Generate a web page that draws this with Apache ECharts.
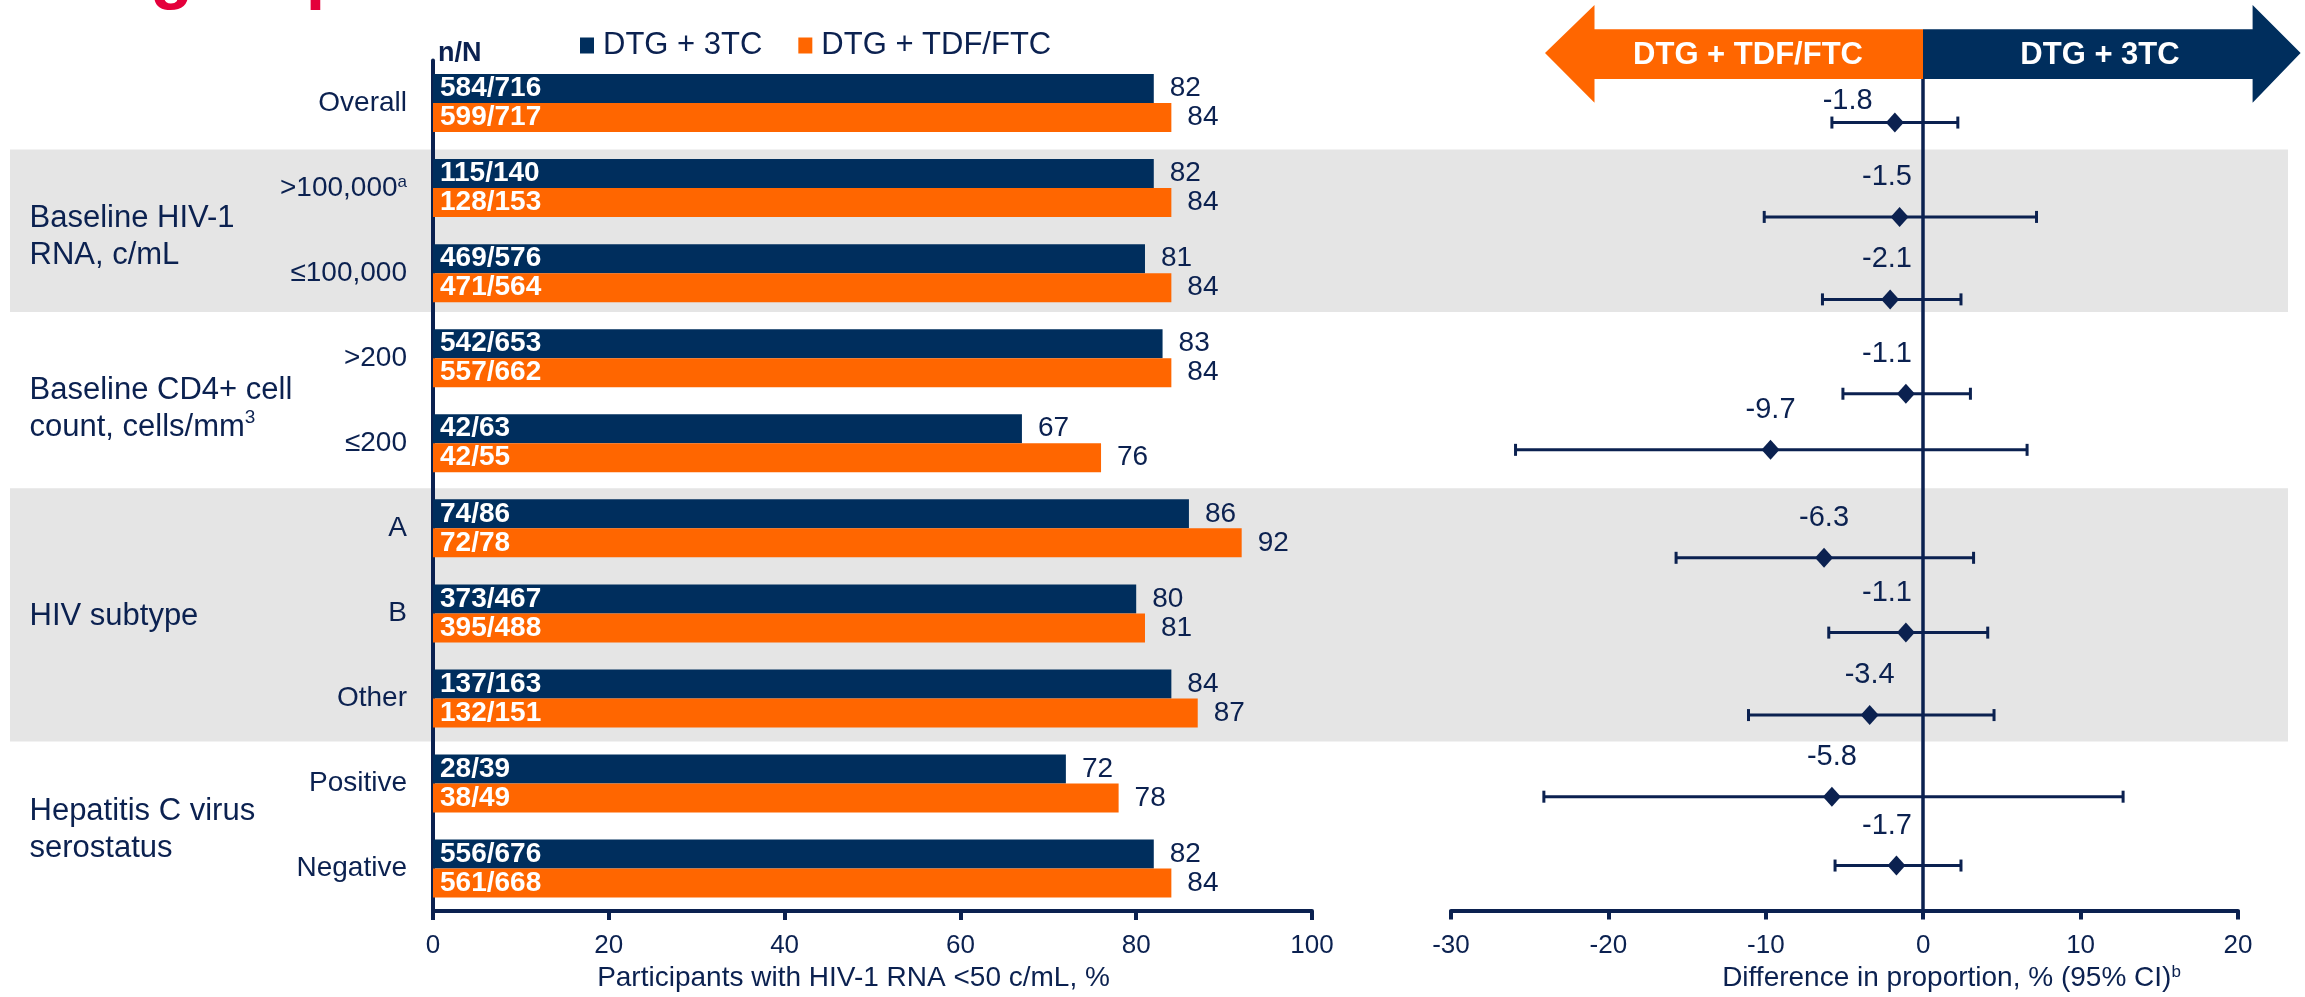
<html>
<head>
<meta charset="utf-8">
<script src="https://cdn.jsdelivr.net/npm/echarts@6/dist/echarts.min.js"></script>
<style>
html, body, #main { width: 100%; height: 100%; margin: 0; background: #fff; }
</style>
</head>
<body>
<div id="main"></div>
<script>
// subgroup rows, top to bottom
var subgroups = ['Overall', '>100,000', '≤100,000', '>200', '≤200', 'A', 'B', 'Other', 'Positive', 'Negative'];
var pct3TC = [82, 82, 81, 83, 67, 86, 80, 84, 72, 82];
var pctTDF = [84, 84, 84, 84, 76, 92, 81, 87, 78, 84];
var nN3TC = ['584/716', '115/140', '469/576', '542/653', '42/63', '74/86', '373/467', '137/163', '28/39', '556/676'];
var nNTDF = ['599/717', '128/153', '471/564', '557/662', '42/55', '72/78', '395/488', '132/151', '38/49', '561/668'];

// difference in proportion and 95% CI
var diff = [-1.8, -1.5, -2.1, -1.1, -9.7, -6.3, -1.1, -3.4, -5.8, -1.7];
var ciLow = [-5.8, -10.1, -6.4, -5.1, -25.9, -15.7, -6.0, -11.1, -24.1, -5.6];
var ciHigh = [2.2, 7.2, 2.4, 3.0, 6.6, 3.2, 4.1, 4.5, 12.7, 2.4];
var forestRow = [0.23, 1.34, 2.31, 3.42, 4.08, 5.35, 6.23, 7.2, 8.16, 8.97];

var groupNames = ['Baseline HIV-1\nRNA, c/mL', 'Baseline CD4+ cell\ncount, cells/mm{sup|3}', 'HIV subtype', 'Hepatitis C virus\nserostatus'];
var groupRow = [1.56, 3.57, 6.0, 8.5];
var shadedFrom = [0.54, 4.5];
var shadedTo = [2.44, 7.46];

var NAVY = '#002E5D';
var ORANGE = '#FF6600';
var INK = '#0B2150';
var FONT = 'Liberation Sans, Arial, sans-serif';

var chart = echarts.init(document.getElementById('main'));

var catLabels = subgroups.map(function (s) {
    return s === '>100,000' ? s + '{sup|a}' : s;
});

var forestData = diff.map(function (d, i) {
    return [ciLow[i], ciHigh[i], d, forestRow[i], i];
});

chart.setOption({
    backgroundColor: '#fff',
    animation: false,
    textStyle: { fontFamily: FONT, color: INK },
    legend: {
        left: 575,
        top: 25,
        itemWidth: 14,
        itemHeight: 16,
        itemGap: 36,
        icon: 'rect',
        textStyle: { fontSize: 31, color: INK, padding: [0, 0, 0, 4] },
        data: ['DTG + 3TC', 'DTG + TDF/FTC']
    },
    grid: [
        { left: 433, right: 993, top: 60.5, bottom: 81 },
        { left: 1451, right: 67, top: 60.5, bottom: 81 },
        { left: 10, right: 17, top: 60.5, bottom: 81 }
    ],
    xAxis: [
        {
            gridIndex: 0, type: 'value', min: 0, max: 100, interval: 20,
            axisLine: { show: true, lineStyle: { color: INK, width: 4 } },
            axisTick: { show: true, length: 9, lineStyle: { color: INK, width: 4 } },
            axisLabel: { fontSize: 26, color: INK, margin: 22 },
            splitLine: { show: false },
            name: 'Participants with HIV-1 RNA <50 c/mL, %',
            nameLocation: 'middle',
            nameGap: 48,
            nameTextStyle: { fontSize: 28, color: INK, padding: [0, 38, 0, 0] }
        },
        {
            gridIndex: 1, type: 'value', min: -30, max: 20, interval: 10,
            axisLine: { show: true, onZero: false, lineStyle: { color: INK, width: 4 } },
            axisTick: { show: true, length: 9, lineStyle: { color: INK, width: 4 } },
            axisLabel: { fontSize: 26, color: INK, margin: 22 },
            splitLine: { show: false },
            name: 'Difference in proportion, % (95% CI){sup|b}',
            nameLocation: 'middle',
            nameGap: 48,
            nameTextStyle: {
                fontSize: 28, color: INK, padding: [0, 0, 0, 214],
                rich: { sup: { fontSize: 17, verticalAlign: 'top', padding: [0, 0, 12, 0], color: INK } }
            }
        },
        { gridIndex: 2, type: 'value', min: 0, max: 1, show: false }
    ],
    yAxis: [
        {
            gridIndex: 0, type: 'category', inverse: true, data: catLabels,
            axisLine: { show: true, lineStyle: { color: INK, width: 4 } },
            axisTick: { show: false },
            axisLabel: {
                fontSize: 28, color: INK, margin: 26,
                rich: { sup: { fontSize: 17, verticalAlign: 'top', padding: [0, 0, 12, 0], color: INK } }
            }
        },
        {
            gridIndex: 1, type: 'value', inverse: true, min: -0.5, max: 9.5,
            axisLine: { show: true, onZero: true, lineStyle: { color: INK, width: 3.5 } },
            axisTick: { show: false }, axisLabel: { show: false }, splitLine: { show: false }
        },
        { gridIndex: 2, type: 'value', inverse: true, min: -0.5, max: 9.5, show: false }
    ],
    series: [
        {
            // shaded row bands behind everything
            type: 'custom',
            xAxisIndex: 2, yAxisIndex: 2,
            z: 0,
            silent: true,
            data: shadedFrom.map(function (f, i) { return [f, shadedTo[i]]; }),
            renderItem: function (params, api) {
                var p0 = api.coord([0, api.value(0)]);
                var p1 = api.coord([1, api.value(1)]);
                return {
                    type: 'rect',
                    shape: { x: p0[0], y: p0[1], width: p1[0] - p0[0], height: p1[1] - p0[1] },
                    style: { fill: '#E5E5E5' }
                };
            }
        },
        {
            // group headings on the left
            type: 'scatter',
            xAxisIndex: 2, yAxisIndex: 2,
            symbolSize: 1,
            itemStyle: { color: 'rgba(0,0,0,0)', opacity: 1 },
            silent: true,
            data: groupNames.map(function (g, i) { return { value: [0, groupRow[i]], name: g }; }),
            label: {
                show: true, position: 'right', distance: 19, align: 'left',
                formatter: '{b}', fontSize: 31, color: INK, lineHeight: 37,
                rich: { sup: { fontSize: 19, verticalAlign: 'top', padding: [0, 0, 14, 0], color: INK } }
            }
        },
        {
            name: 'DTG + 3TC',
            type: 'bar', xAxisIndex: 0, yAxisIndex: 0,
            stack: 'a', barWidth: 29, barGap: '0%',
            itemStyle: { color: NAVY },
            data: pct3TC,
            label: {
                show: true, position: 'insideLeft', distance: 7,
                formatter: function (p) { return nN3TC[p.dataIndex]; },
                color: '#fff', fontWeight: 'bold', fontSize: 28
            }
        },
        {
            type: 'bar', xAxisIndex: 0, yAxisIndex: 0,
            stack: 'a', barWidth: 29, barGap: '0%',
            itemStyle: { color: 'rgba(0,0,0,0)' },
            data: pct3TC.map(function () { return 0; }),
            label: {
                show: true, position: 'right', distance: 16,
                formatter: function (p) { return pct3TC[p.dataIndex]; },
                color: INK, fontSize: 28
            }
        },
        {
            name: 'DTG + TDF/FTC',
            type: 'bar', xAxisIndex: 0, yAxisIndex: 0,
            stack: 'b', barWidth: 29, barGap: '0%',
            itemStyle: { color: ORANGE },
            data: pctTDF,
            label: {
                show: true, position: 'insideLeft', distance: 7,
                formatter: function (p) { return nNTDF[p.dataIndex]; },
                color: '#fff', fontWeight: 'bold', fontSize: 28
            }
        },
        {
            type: 'bar', xAxisIndex: 0, yAxisIndex: 0,
            stack: 'b', barWidth: 29, barGap: '0%',
            itemStyle: { color: 'rgba(0,0,0,0)' },
            data: pctTDF.map(function () { return 0; }),
            label: {
                show: true, position: 'right', distance: 16,
                formatter: function (p) { return pctTDF[p.dataIndex]; },
                color: INK, fontSize: 28
            }
        },
        {
            // CI whiskers + estimate labels
            type: 'custom',
            xAxisIndex: 1, yAxisIndex: 1,
            z: 3,
            data: forestData,
            renderItem: function (params, api) {
                var lo = api.coord([api.value(0), api.value(3)]);
                var hi = api.coord([api.value(1), api.value(3)]);
                var est = api.value(2);
                var idx = api.value(4);
                var lx = idx === 0 ? est - 3 : Math.min(est, -2.3);
                var lp = api.coord([lx, api.value(3)]);
                var dy = idx === 0 ? 22 : 40;
                var ls = { stroke: INK, lineWidth: 3 };
                return {
                    type: 'group',
                    children: [
                        { type: 'line', shape: { x1: lo[0], y1: lo[1], x2: hi[0], y2: hi[1] }, style: ls },
                        { type: 'line', shape: { x1: lo[0], y1: lo[1] - 6, x2: lo[0], y2: lo[1] + 6 }, style: ls },
                        { type: 'line', shape: { x1: hi[0], y1: hi[1] - 6, x2: hi[0], y2: hi[1] + 6 }, style: ls },
                        {
                            type: 'text',
                            style: {
                                x: lp[0], y: lp[1] - dy, text: est.toFixed(1),
                                align: 'center', verticalAlign: 'middle',
                                fontSize: 29, fontFamily: FONT, fill: INK
                            }
                        }
                    ]
                };
            }
        },
        {
            type: 'scatter',
            xAxisIndex: 1, yAxisIndex: 1,
            z: 4,
            symbol: 'diamond',
            symbolSize: [18, 20],
            itemStyle: { color: INK, opacity: 1 },
            data: diff.map(function (d, i) { return [d, forestRow[i]]; })
        }
    ],
    graphic: [
        {
            type: 'text', left: 438, top: 40,
            style: { text: 'n/N', fontSize: 27, fontWeight: 'bold', fontFamily: FONT, fill: INK }
        },
        {
            type: 'text', x: 18, y: 11,
            style: { text: 'Subgroup', fontSize: 70, fontWeight: 'bold', fontFamily: FONT, fill: '#E4003B', verticalAlign: 'bottom' }
        },
        {
            type: 'polygon', z: 10,
            shape: { points: [[1545, 53], [1594.5, 5], [1594.5, 29.3], [1923, 29.3], [1923, 79], [1594.5, 79], [1594.5, 102.7]] },
            style: { fill: ORANGE }
        },
        {
            type: 'polygon', z: 10,
            shape: { points: [[1923, 29.3], [2252.6, 29.3], [2252.6, 5], [2300.6, 53], [2252.6, 102.7], [2252.6, 79], [1923, 79]] },
            style: { fill: NAVY }
        },
        {
            type: 'text', z: 11, x: 1748, y: 55,
            style: { text: 'DTG + TDF/FTC', fontSize: 31, fontWeight: 'bold', fontFamily: FONT, fill: '#fff', align: 'center', verticalAlign: 'middle' }
        },
        {
            type: 'text', z: 11, x: 2100, y: 55,
            style: { text: 'DTG + 3TC', fontSize: 31, fontWeight: 'bold', fontFamily: FONT, fill: '#fff', align: 'center', verticalAlign: 'middle' }
        }
    ]
});
</script>
</body>
</html>
